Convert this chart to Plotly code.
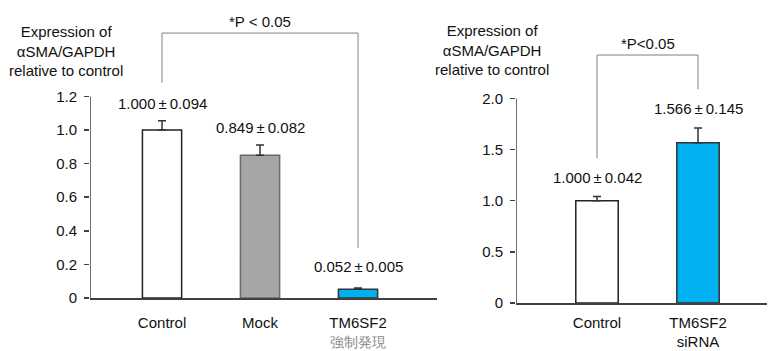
import plotly.graph_objects as go

# ---- data ----
left_cats = ["Control", "Mock", "TM6SF2<br><span style='color:#8a8a8a;font-size:14px'>強制発現</span>"]
left_vals = [1.000, 0.849, 0.052]
left_err_drawn = [0.055, 0.062, 0.008]
left_labels = ["1.000\u2009±\u20090.094", "0.849\u2009±\u20090.082", "0.052\u2009±\u20090.005"]
left_label_y = [1.16, 1.012, 0.185]
left_colors = ["#FFFFFF", "#A6A6A6", "#00B0F0"]
left_lines = ["#222222", "#6b6b6b", "#333333"]
left_ticks = [0, 0.2, 0.4, 0.6, 0.8, 1.0, 1.2]
left_ticktext = ["0", "0.2", "0.4", "0.6", "0.8", "1.0", "1.2"]

right_cats = ["Control", "TM6SF2<br>siRNA"]
right_vals = [1.000, 1.566]
right_err = [0.042, 0.145]
right_labels = ["1.000\u2009±\u20090.042", "1.566\u2009±\u20090.145"]
right_label_y = [1.222, 1.906]
right_colors = ["#FFFFFF", "#00B0F0"]
right_lines = ["#222222", "#333333"]
right_ticks = [0, 0.5, 1.0, 1.5, 2.0]
right_ticktext = ["0", "0.5", "1.0", "1.5", "2.0"]

ytitle = "Expression of<br>αSMA/GAPDH<br>relative to control"

FONT = "Liberation Sans, Arial, sans-serif"
AX = "#404040"
BR = "#808080"

W, H = 768, 351

lx = [1, 2, 3]
rx = [1, 2]
LXR = [0.265, 3.806]
RXR = [0.198, 2.683]
LYR = [0, 1.7]
RYR = [0, 2.8]

# pixel layout (top-left origin)
L_BASE, L_PPU = 298, 168.0
R_BASE, R_PPU = 303, 102.3


def ydom(base, ppu, yr):
    top = base - ppu * yr[1]
    return [1 - base / H, 1 - top / H]


fig = go.Figure()
fig.add_trace(go.Bar(
    x=lx, y=left_vals, width=0.4,
    marker=dict(color=left_colors, line=dict(color=left_lines, width=1.5)),
    error_y=dict(type="data", array=left_err_drawn, arrayminus=[0, 0, 0],
                 color="#333333", thickness=1.5, width=4),
    xaxis="x", yaxis="y", showlegend=False, hoverinfo="skip"))
fig.add_trace(go.Bar(
    x=rx, y=right_vals, width=0.42,
    marker=dict(color=right_colors, line=dict(color=right_lines, width=1.5)),
    error_y=dict(type="data", array=right_err, arrayminus=[0, 0],
                 color="#333333", thickness=1.5, width=4),
    xaxis="x2", yaxis="y2", showlegend=False, hoverinfo="skip"))

tf = dict(size=15, color="#111111", family=FONT)
ann = []
for x, t, y in zip(lx, left_labels, left_label_y):
    ann.append(dict(x=x, y=y, xref="x", yref="y", text=t, showarrow=False, font=tf))
for x, t, y in zip(rx, right_labels, right_label_y):
    ann.append(dict(x=x, y=y, xref="x2", yref="y2", text=t, showarrow=False, font=tf))
ann.append(dict(x=2, y=1.643, xref="x", yref="y", text="*P < 0.05", showarrow=False, font=tf))
ann.append(dict(x=1.5, y=2.54, xref="x2", yref="y2", text="*P<0.05", showarrow=False, font=tf))
ann.append(dict(x=66 / W, y=1 - 51 / H, xref="paper", yref="paper", text=ytitle,
                xanchor="center", yanchor="middle", showarrow=False, font=tf))
ann.append(dict(x=492 / W, y=1 - 50 / H, xref="paper", yref="paper", text=ytitle,
                xanchor="center", yanchor="middle", showarrow=False, font=tf))

shapes = [
    dict(type="line", xref="x", yref="y", x0=LXR[0], x1=LXR[0], y0=0, y1=left_ticks[-1],
         line=dict(color=AX, width=1.5)),
    dict(type="line", xref="x2", yref="y2", x0=RXR[0], x1=RXR[0], y0=0, y1=right_ticks[-1],
         line=dict(color=AX, width=1.5)),
    dict(type="path", xref="x", yref="y",
         path="M 1,1.28 L 1,1.577 L 3,1.577 L 3,0.298", line=dict(color=BR, width=1)),
    dict(type="path", xref="x2", yref="y2",
         path="M 1,1.417 L 1,2.424 L 2,2.424 L 2,2.09", line=dict(color=BR, width=1)),
]

common_x = dict(showline=True, linecolor=AX, linewidth=1.5, ticks="", showgrid=False,
                zeroline=False, tickfont=tf, fixedrange=True, automargin=False)
common_y = dict(showline=False, ticks="outside", ticklen=5, tickwidth=1.5, tickcolor=AX,
                showgrid=False, zeroline=False, tickfont=tf,
                ticklabelstandoff=4, fixedrange=True, automargin=False)

fig.update_layout(
    width=W, height=H, margin=dict(l=0, r=0, t=0, b=0, autoexpand=False),
    paper_bgcolor="white", plot_bgcolor="white",
    xaxis=dict(domain=[90 / W, 437 / W], range=LXR, anchor="y",
               tickvals=lx, ticktext=left_cats, ticklabelstandoff=10, **common_x),
    yaxis=dict(domain=ydom(L_BASE, L_PPU, LYR), range=LYR, anchor="x",
               tickvals=left_ticks, ticktext=left_ticktext, **common_y),
    xaxis2=dict(domain=[516 / W, 767 / W], range=RXR, anchor="y2",
                tickvals=rx, ticktext=right_cats, ticklabelstandoff=5, **common_x),
    yaxis2=dict(domain=ydom(R_BASE, R_PPU, RYR), range=RYR, anchor="x2",
                tickvals=right_ticks, ticktext=right_ticktext, **common_y),
    annotations=ann, shapes=shapes, bargap=0,
)

fig.write_html(
    "out.html",
    config={"displayModeBar": False, "staticPlot": True},
    post_script=(
        "document.body.style.margin='0';"
        "document.body.style.padding='0';"
        "document.body.style.overflow='hidden';"
    ),
)
